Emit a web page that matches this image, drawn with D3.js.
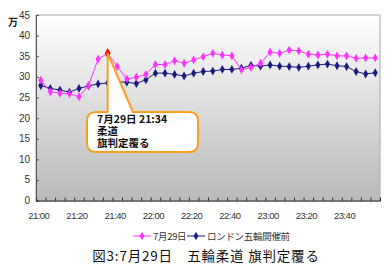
<!DOCTYPE html>
<html>
<head>
<meta charset="utf-8">
<script src="https://cdn.jsdelivr.net/npm/d3@7"></script>
<style>
  body { margin: 0; background: #fff; }
  svg { display: block; font-family: "Liberation Sans", Arial, sans-serif; }
</style>
</head>
<body>
<svg id="chart" width="392" height="271"></svg>
<script>
// 時刻 (5分ごと)
const times = d3.range(36).map(i => {
  const m = 21 * 60 + i * 5;
  return Math.floor(m / 60) + ":" + String(m % 60).padStart(2, "0");
});
const tickLabels = ["21:00", "21:20", "21:40", "22:00", "22:20", "22:40", "23:00", "23:20", "23:40"];
const yTicks = [0, 5, 10, 15, 20, 25, 30, 35, 40, 45];

// 7月29日
const july29 = [29.2, 26.4, 26.0, 25.9, 25.2, 27.9, 34.3, 35.7, 32.5, 29.5, 29.9, 30.6,
  33.0, 33.0, 33.9, 33.3, 34.1, 34.9, 35.7, 35.3, 35.1, 31.7, 32.3, 33.3,
  36.0, 35.7, 36.5, 36.3, 35.5, 35.3, 35.5, 35.1, 35.1, 34.5, 34.6, 34.6];
// ロンドン五輪開催前
const before = [27.9, 27.2, 26.8, 26.3, 27.2, 27.8, 28.3, 28.5, 28.8, 28.7, 28.4, 29.3,
  30.9, 30.9, 30.6, 30.2, 30.9, 31.3, 31.4, 31.8, 31.8, 32.1, 32.8, 32.6,
  32.9, 32.6, 32.5, 32.3, 32.6, 32.9, 33.1, 32.7, 32.5, 31.3, 30.7, 31.0];
const peakIndex = 7;
const calloutLines = ["7月29日 21:34", "柔道", "旗判定覆る"];

const svg = d3.select("#chart");
const L = 36, R = 380, T = 15, B = 200.6;

const x = d3.scaleBand().domain(times).range([L, R]);
const cx = d => x(d) + x.bandwidth() / 2;
const y = d3.scaleLinear().domain([0, 45]).range([B, T]);

// 背景グラデーション
const grad = svg.append("defs").append("linearGradient")
  .attr("id", "bg").attr("x1", 0).attr("y1", 0).attr("x2", 0).attr("y2", 1);
grad.append("stop").attr("offset", "0%").attr("stop-color", "#ffffff");
grad.append("stop").attr("offset", "100%").attr("stop-color", "#b9b9b9");

svg.append("rect")
  .attr("x", L).attr("y", T).attr("width", R - L).attr("height", B - T)
  .attr("fill", "url(#bg)").attr("stroke", "#a8a8a8").attr("stroke-width", 1);

// 軸
const yAxis = svg.append("g").attr("transform", `translate(${L},0)`)
  .call(d3.axisRight(y).tickValues(yTicks).tickSize(3).tickFormat(""));
yAxis.select(".domain").attr("stroke", "#555");
yAxis.selectAll(".tick line").attr("stroke", "#555");

svg.append("g").selectAll("text").data(yTicks).join("text")
  .attr("x", 30).attr("y", d => y(d) + 3.5)
  .attr("text-anchor", "end").attr("font-size", 10).attr("fill", "#333")
  .text(d => d);

const xAxis = svg.append("g").attr("transform", `translate(0,${B})`)
  .call(d3.axisTop(d3.scaleLinear().domain([0, 36]).range([L, R]))
    .tickValues(d3.range(37)).tickSize(3).tickFormat(""));
xAxis.select(".domain").attr("stroke", "#222");
xAxis.selectAll(".tick line").attr("stroke", "#222");

svg.append("g").selectAll("text").data(tickLabels).join("text")
  .attr("x", d => cx(d) - 2).attr("y", B + 18)
  .attr("text-anchor", "middle").attr("font-size", 9.5).attr("fill", "#333")
  .attr("letter-spacing", "-0.5")
  .text(d => d);

svg.append("text").attr("x", 8).attr("y", 26)
  .attr("font-size", 10).attr("font-weight", "bold").attr("fill", "#222")
  .attr("font-family", "'Noto Sans CJK JP', sans-serif").text("万");

// 系列
const line = d3.line().x((d, i) => cx(times[i])).y(d => y(d));

function drawSeries(data, color, r) {
  svg.append("path").datum(data)
    .attr("d", line).attr("fill", "none")
    .attr("stroke", color).attr("stroke-width", 1);
  svg.append("g").selectAll("path").data(data).join("path")
    .attr("transform", (d, i) => `translate(${cx(times[i])},${y(d)})`)
    .attr("d", d3.symbol(d3.symbolDiamond, r * r * 2.2)())
    .attr("fill", color);
}
drawSeries(before, "#1a1a80", 3.2);
drawSeries(july29, "#ff33ff", 3.2);

// ピーク
svg.append("path")
  .attr("transform", `translate(${cx(times[peakIndex])},${y(july29[peakIndex])})`)
  .attr("d", d3.symbol(d3.symbolDiamond, 30)())
  .attr("fill", "#ff0000");

// 吹き出し
const px = cx(times[peakIndex]), py = y(july29[peakIndex]);
const bx0 = 87, by0 = 112, bx1 = 198, by1 = 152, rr = 9;
const p = d3.path();
p.moveTo(bx0 + rr, by0);
p.lineTo(px, by0);
p.lineTo(px, py);
p.lineTo(133, by0);
p.lineTo(bx1 - rr, by0);
p.quadraticCurveTo(bx1, by0, bx1, by0 + rr);
p.lineTo(bx1, by1 - rr);
p.quadraticCurveTo(bx1, by1, bx1 - rr, by1);
p.lineTo(bx0 + rr, by1);
p.quadraticCurveTo(bx0, by1, bx0, by1 - rr);
p.lineTo(bx0, by0 + rr);
p.quadraticCurveTo(bx0, by0, bx0 + rr, by0);
p.closePath();
svg.append("path").attr("d", p.toString())
  .attr("fill", "#ffffff").attr("stroke", "#f7a020").attr("stroke-width", 2)
  .attr("stroke-linejoin", "round");

// 吹き出しの文字 (1つのtextに3行)
const callout = svg.append("text")
  .attr("x", 97).attr("y", 123)
  .attr("font-size", 10.5).attr("font-weight", "bold").attr("fill", "#111")
  .attr("font-family", "'Noto Sans CJK JP', sans-serif");
callout.selectAll("tspan").data(calloutLines).join("tspan")
  .attr("x", 97).attr("dy", (d, i) => i === 0 ? 0 : 12)
  .text(d => d);

// 凡例
const legend = [
  { name: "7月29日", color: "#ff33ff", x: 133 },
  { name: "ロンドン五輪開催前", color: "#1a1a80", x: 187 }
];
const lg = svg.append("g").selectAll("g").data(legend).join("g")
  .attr("transform", d => `translate(${d.x},236)`);
lg.append("line").attr("x1", 0).attr("x2", 18).attr("stroke", d => d.color);
lg.append("path").attr("transform", "translate(9,0)")
  .attr("d", d3.symbol(d3.symbolDiamond, 20)()).attr("fill", d => d.color);
lg.append("text").attr("x", 20).attr("y", 3.5)
  .attr("font-size", 9.5).attr("fill", "#333")
  .attr("letter-spacing", "-0.3")
  .attr("font-family", "'Noto Sans CJK JP', sans-serif")
  .text(d => d.name);

// タイトル
svg.append("text").attr("x", 206).attr("y", 261)
  .attr("text-anchor", "middle").attr("font-size", 13.5).attr("fill", "#111")
  .attr("letter-spacing", "0.8")
  .attr("font-family", "'Noto Sans CJK JP', sans-serif")
  .text("図3:7月29日　五輪柔道 旗判定覆る");
</script>
</body>
</html>
